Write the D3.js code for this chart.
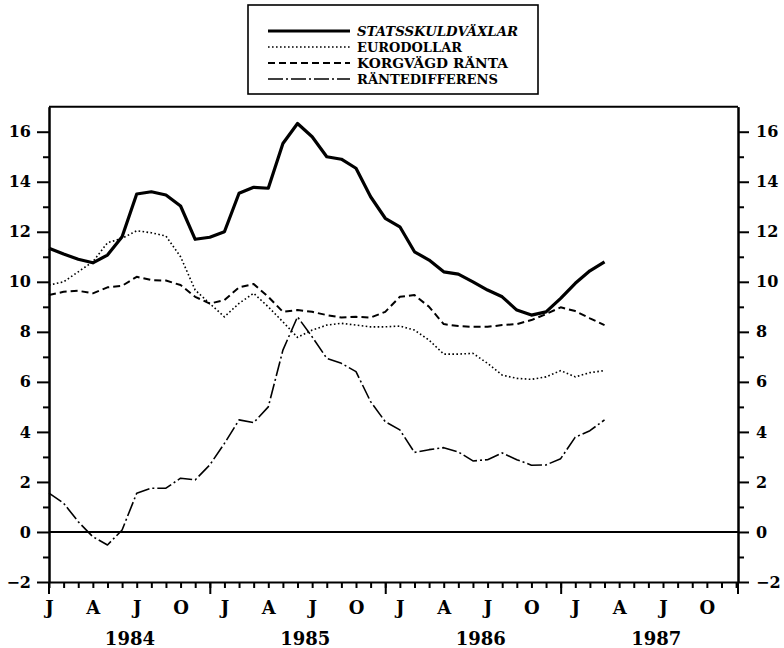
<!DOCTYPE html>
<html>
<head>
<meta charset="utf-8">
<script src="https://cdn.jsdelivr.net/npm/d3@7"></script>
<style>
  html, body { margin: 0; padding: 0; background: #fff; }
  svg { display: block; }
  text { font-family: "DejaVu Serif", "Liberation Serif", serif; font-weight: bold; fill: #000; }
</style>
</head>
<body>
<svg id="chart" width="784" height="648"></svg>
<script>
// ---- Data (monthly, Jan 1984 .. Mar 1987) ----
const months = d3.range(0, 39); // month index from Jan 1984
const statsskuldvaxlar = [11.34, 11.11, 10.90, 10.76, 11.07, 11.8, 13.51, 13.6, 13.47, 13.03, 11.7, 11.78,
  12.0, 13.54, 13.78, 13.74, 15.53, 16.33, 15.8, 15.0, 14.9, 14.54, 13.4, 12.54,
  12.2, 11.2, 10.87, 10.4, 10.31, 10.0, 9.67, 9.4, 8.87, 8.67, 8.8, 9.34,
  9.94, 10.44, 10.8];
const eurodollar = [9.87, 10.0, 10.4, 10.8, 11.56, 11.74, 12.04, 11.96, 11.83, 11.0, 9.67, 9.13,
  8.6, 9.14, 9.54, 9.0, 8.4, 7.78, 8.07, 8.27, 8.34, 8.27, 8.2, 8.2,
  8.23, 8.07, 7.67, 7.11, 7.11, 7.14, 6.74, 6.27, 6.14, 6.1, 6.2, 6.45,
  6.2, 6.37, 6.45];
const korgvagdRanta = [9.47, 9.6, 9.64, 9.54, 9.78, 9.84, 10.2, 10.07, 10.05, 9.87, 9.4, 9.13,
  9.27, 9.78, 9.91, 9.4, 8.8, 8.87, 8.8, 8.67, 8.57, 8.6, 8.57, 8.8,
  9.4, 9.47, 9.0, 8.31, 8.23, 8.2, 8.2, 8.27, 8.31, 8.47, 8.71, 8.98,
  8.83, 8.54, 8.27];
const rantedifferens = [1.55, 1.15, 0.41, -0.19, -0.52, 0.08, 1.55, 1.75, 1.75, 2.15, 2.08, 2.68,
  3.54, 4.48, 4.37, 5.0, 7.27, 8.6, 7.8, 6.94, 6.74, 6.41, 5.21, 4.41,
  4.08, 3.18, 3.29, 3.37, 3.2, 2.84, 2.89, 3.16, 2.89, 2.67, 2.68, 2.93,
  3.79, 4.05, 4.48];

const seriesNames = ["STATSSKULDVÄXLAR", "EURODOLLAR", "KORGVÄGD RÄNTA", "RÄNTEDIFFERENS"];
const quarterLabels = ["J", "A", "J", "O"];
const years = ["1984", "1985", "1986", "1987"];
const yMajorTicks = [-2, 0, 2, 4, 6, 8, 10, 12, 14, 16];
const yMinorTicks = [-1, 1, 3, 5, 7, 9, 11, 13, 15];

// ---- Layout ----
const svg = d3.select("#chart");
const plotLeft = 49, plotRight = 738, plotTop = 106.7, plotBottom = 582;
const x = d3.scaleLinear().domain([0, 47.13]).range([plotLeft, plotRight]);
const y = d3.scaleLinear().domain([-2, 17]).range([plotBottom, plotTop]);

const styles = [
  { width: 3.2, dash: null },
  { width: 1.6, dash: "1.6,2.4" },
  { width: 2.0, dash: "7,4" },
  { width: 1.6, dash: "15,3,2,3" }
];
const seriesData = [statsskuldvaxlar, eurodollar, korgvagdRanta, rantedifferens];

// Frame top line
svg.append("line").attr("x1", plotLeft).attr("x2", plotRight).attr("y1", plotTop).attr("y2", plotTop)
  .attr("stroke", "#000").attr("stroke-width", 2);

// Zero line
svg.append("line").attr("x1", plotLeft).attr("x2", plotRight).attr("y1", y(0)).attr("y2", y(0))
  .attr("stroke", "#000").attr("stroke-width", 2);

function styleAxis(g) {
  g.selectAll(".domain").attr("stroke", "#000").attr("stroke-width", 2);
  g.selectAll(".tick line").attr("stroke", "#000").attr("stroke-width", 2);
}
const minus = d => d < 0 ? "\u2212" + Math.abs(d) : String(d);

// Left axis
const gL = svg.append("g").attr("transform", `translate(${plotLeft},0)`)
  .call(d3.axisLeft(y).tickValues(yMajorTicks).tickSize(12).tickSizeOuter(0).tickPadding(6).tickFormat(minus));
styleAxis(gL);
gL.selectAll("text").style("font-size", "16px");
const gLm = svg.append("g").attr("transform", `translate(${plotLeft},0)`)
  .call(d3.axisLeft(y).tickValues(yMinorTicks).tickSize(6).tickSizeOuter(0).tickFormat(""));
styleAxis(gLm);
svg.append("line").attr("x1", plotLeft).attr("x2", plotLeft).attr("y1", plotBottom).attr("y2", plotBottom + 12)
  .attr("stroke", "#000").attr("stroke-width", 2);

// Right axis
const gR = svg.append("g").attr("transform", `translate(${plotRight},0)`)
  .call(d3.axisRight(y).tickValues(yMajorTicks).tickSize(11).tickSizeOuter(0).tickPadding(7).tickFormat(minus));
styleAxis(gR);
gR.selectAll("text").style("font-size", "16px");
const gRm = svg.append("g").attr("transform", `translate(${plotRight},0)`)
  .call(d3.axisRight(y).tickValues(yMinorTicks).tickSize(6).tickSizeOuter(0).tickFormat(""));
styleAxis(gRm);
svg.append("line").attr("x1", plotRight).attr("x2", plotRight).attr("y1", plotBottom).attr("y2", plotBottom + 12)
  .attr("stroke", "#000").attr("stroke-width", 2);

// Bottom axis: monthly ticks with quarter labels
const gB = svg.append("g").attr("transform", `translate(0,${plotBottom})`)
  .call(d3.axisBottom(x).tickValues(d3.range(0, 48)).tickSize(6).tickSizeOuter(0)
    .tickFormat(m => m % 3 === 0 ? quarterLabels[(m % 12) / 3] : ""));
styleAxis(gB);
gB.selectAll("text").style("font-size", "18px").attr("y", 32).attr("dy", 0);

// Long year-separator ticks
const gBl = svg.append("g").attr("transform", `translate(0,${plotBottom})`)
  .call(d3.axisBottom(x).tickValues([11, 23, 35]).tickSize(12).tickSizeOuter(0).tickFormat(""));
styleAxis(gBl);
gBl.select(".domain").remove();

// Year labels
const gY = svg.append("g").attr("transform", `translate(0,${plotBottom})`)
  .call(d3.axisBottom(x).tickValues([5.5, 17.5, 29.5, 41.5]).tickSize(0).tickSizeOuter(0)
    .tickFormat((d, i) => years[i]));
gY.select(".domain").remove();
gY.selectAll("text").style("font-size", "18px").attr("y", 63).attr("dy", 0);

// Series lines
const line = d3.line().x((d, i) => x(months[i])).y(d => y(d));
seriesData.forEach((data, k) => {
  svg.append("path").datum(data)
    .attr("d", line)
    .attr("fill", "none")
    .attr("stroke", "#000")
    .attr("stroke-width", styles[k].width)
    .attr("stroke-dasharray", styles[k].dash)
    .attr("stroke-linejoin", "round");
});

// Legend
const legend = svg.append("g");
legend.append("rect").attr("x", 248).attr("y", 5).attr("width", 290).attr("height", 89)
  .attr("fill", "none").attr("stroke", "#000").attr("stroke-width", 1.6);
const rowY = [31, 47, 63, 79];
const textLens = [161, 105, 151, 141];
seriesNames.forEach((name, k) => {
  legend.append("line").attr("x1", 268).attr("x2", 350).attr("y1", rowY[k]).attr("y2", rowY[k])
    .attr("stroke", "#000").attr("stroke-width", styles[k].width)
    .attr("stroke-dasharray", styles[k].dash);
  legend.append("text").attr("x", 357).attr("y", rowY[k]).attr("dy", "0.36em")
    .style("font-size", "13px")
    .style("font-style", k === 0 ? "italic" : "normal")
    .attr("textLength", textLens[k]).attr("lengthAdjust", "spacingAndGlyphs")
    .text(name);
});
</script>
</body>
</html>
